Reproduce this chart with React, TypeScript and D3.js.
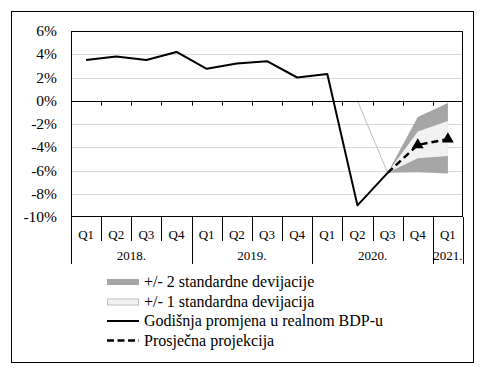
import React from 'react'
import * as d3 from 'd3'

// quarters on the x axis, grouped by year
const quarters = ['Q1', 'Q2', 'Q3', 'Q4', 'Q1', 'Q2', 'Q3', 'Q4', 'Q1', 'Q2', 'Q3', 'Q4', 'Q1']
const yearLabels = ['2018.', '2019.', '2020.', '2021.']
const yearSpans = [4, 4, 4, 1]

// annual change in real GDP (%), 2018 Q1 .. 2020 Q3
const gdp = [3.5, 3.8, 3.5, 4.2, 2.75, 3.2, 3.4, 2.0, 2.3, -9.0, -6.2]
// projection, starts at 2020 Q3 (index 10)
const projStart = 10
const projection = [-6.2, -3.8, -3.3]
const band2Upper = [-6.2, -1.4, -0.2]
const band2Lower = [-6.2, -6.15, -6.25]
const band1Upper = [-6.2, -2.65, -1.75]
const band1Lower = [-6.2, -4.95, -4.75]
// thin helper line 2020 Q2 .. Q3
const helperStart = 9
const helper = [0, -6.2]

const yTicks = [6, 4, 2, 0, -2, -4, -6, -8, -10]

const legendItems = [
  '+/- 2 standardne devijacije',
  '+/- 1 standardna devijacija',
  'Godišnja promjena u realnom BDP-u',
  'Prosječna projekcija',
]

export default function App() {
  const W = 482
  const H = 372
  const left = 71
  const right = 463
  const top = 31
  const bottom = 217

  const x = d3.scaleBand<number>().domain(d3.range(quarters.length)).range([left, right])
  const cx = (i: number) => (x(i) as number) + x.bandwidth() / 2
  const y = d3.scaleLinear().domain([-10, 6]).range([bottom, top])

  const line = d3.line<[number, number]>().x(d => cx(d[0])).y(d => y(d[1]))
  const gdpPath = line(gdp.map((v, i) => [i, v]))
  const projPath = line(projection.map((v, i) => [projStart + i, v]))
  const helperPath = line(helper.map((v, i) => [helperStart + i, v]))

  const area = (lo: number[], hi: number[]) =>
    d3.area<number>()
      .x((d, i) => cx(projStart + i))
      .y0((d, i) => y(lo[i]))
      .y1((d, i) => y(hi[i]))(lo)

  const boundaries = d3.range(quarters.length + 1).map(i => i === quarters.length ? right : (x(i) as number))
  const yearEdges = [0]
  yearSpans.forEach(s => yearEdges.push(yearEdges[yearEdges.length - 1] + s))

  const tri = d3.symbol().type(d3.symbolTriangle).size(60)()

  const legendY = [281.5, 301.5, 321, 340.5]
  const swX = 107
  const swW = 32

  return (
    <svg width={W} height={H} style={{ position: 'absolute', left: 0, top: 0 }} fontFamily="Liberation Serif">
      <rect x={11.5} y={11.5} width={462} height={351} fill="#fff" stroke="#000" />

      {/* gridlines */}
      {yTicks.filter(t => t !== 0 && t !== 6 && t !== -10).map(t => (
        <line key={t} x1={left} x2={right} y1={Math.round(y(t)) + 0.5} y2={Math.round(y(t)) + 0.5} stroke="#d9d9d9" />
      ))}

      {/* bands */}
      <path d={area(band2Lower, band2Upper) as string} fill="#a6a6a6" />
      <path d={area(band1Lower, band1Upper) as string} fill="#f2f2f2" />
      <path d={helperPath as string} fill="none" stroke="#bfbfbf" strokeWidth={1} />

      {/* zero axis with ticks */}
      <line x1={left} x2={right} y1={Math.round(y(0)) + 0.5} y2={Math.round(y(0)) + 0.5} stroke="#000" />
      {boundaries.slice(1, -1).map((b, i) => (
        <line key={i} x1={Math.round(b) + 0.5} x2={Math.round(b) + 0.5} y1={y(0)} y2={y(0) + 5} stroke="#000" />
      ))}

      {/* plot border */}
      <rect x={left + 0.5} y={top + 0.5} width={right - left - 1} height={bottom - top - 1} fill="none" stroke="#000" />

      <path d={gdpPath as string} fill="none" stroke="#000" strokeWidth={2} strokeLinejoin="round" />
      <path d={projPath as string} fill="none" stroke="#000" strokeWidth={2.5} strokeDasharray="7,4" />
      {projection.slice(1).map((v, i) => (
        <path key={i} d={tri as string} transform={`translate(${cx(projStart + 1 + i)},${y(v)})`} fill="#000" />
      ))}

      {/* y axis labels */}
      {yTicks.map(t => (
        <text key={t} x={57} y={y(t)} dy="0.33em" textAnchor="end" fontSize={15.5}>{t}%</text>
      ))}

      {/* category axis */}
      {boundaries.map((b, i) => {
        const isYear = yearEdges.includes(i)
        return (
          <line key={i} x1={Math.round(b) + 0.5} x2={Math.round(b) + 0.5} y1={bottom} y2={isYear ? 264 : 241} stroke="#000" />
        )
      })}
      {quarters.map((q, i) => (
        <text key={i} x={cx(i)} y={234} dy="0.35em" textAnchor="middle" fontSize={13}>{q}</text>
      ))}
      {yearLabels.map((yl, i) => (
        <text key={yl} x={(boundaries[yearEdges[i]] + boundaries[yearEdges[i + 1]]) / 2} y={255.5} dy="0.35em" textAnchor="middle" fontSize={13}>{yl}</text>
      ))}

      {/* legend */}
      <rect x={swX} y={legendY[0] - 2.5} width={swW} height={6} fill="#a6a6a6" />
      <rect x={swX + 0.5} y={legendY[1] - 2.5} width={swW - 1} height={6} fill="#f2f2f2" stroke="#bfbfbf" />
      <line x1={swX} x2={swX + swW} y1={legendY[2]} y2={legendY[2]} stroke="#000" strokeWidth={2} />
      <line x1={swX} x2={swX + swW} y1={legendY[3]} y2={legendY[3]} stroke="#000" strokeWidth={2.5} strokeDasharray="7,3.5" />
      {legendItems.map((t, i) => (
        <text key={t} x={144} y={legendY[i]} dy="0.33em" fontSize={16}>{t}</text>
      ))}
    </svg>
  )
}
